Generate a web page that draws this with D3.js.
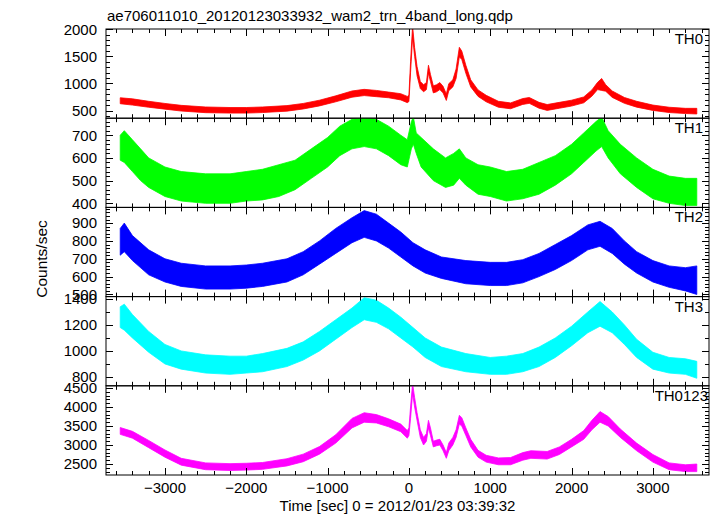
<!DOCTYPE html>
<html><head><meta charset="utf-8">
<script src="https://cdn.jsdelivr.net/npm/d3@7"></script>
<style>body{margin:0;background:#fff}svg{display:block}text{font-family:"Liberation Sans",Arial,sans-serif;fill:#000}</style>
</head><body><svg id="c" width="717" height="516"></svg>
<script>
// ---- data (lo/hi = envelope of the noisy light curve) ----
const title = "ae706011010_20120123033932_wam2_trn_4band_long.qdp";
const xLabel = "Time [sec] 0 = 2012/01/23 03:39:32";
const yLabel = "Counts/sec";
const bands = ["TH0","TH1","TH2","TH3","TH0123"];
const colors = ["#ff0000","#00ff00","#0000ff","#00ffff","#ff00ff"];
const xTicks = [-3000,-2000,-1000,0,1000,2000,3000];

const th0T  = [-3550,-3400,-3200,-3000,-2800,-2500,-2200,-2000,-1800,-1500,-1300,-1100,-900,-700,-550,-400,-250,-100,-20,0,20,45,70,100,140,180,215,240,265,300,340,380,420,460,490,540,580,620,650,700,760,850,950,1100,1250,1400,1480,1600,1700,1850,2000,2150,2250,2320,2370,2420,2500,2650,2800,3000,3200,3400,3540];
const th0Lo = [625,600,560,525,490,460,452,452,462,488,528,585,660,745,775,755,735,695,645,665,1200,1850,1500,1140,905,845,885,1190,1035,825,845,885,825,685,865,935,1090,1490,1440,1185,935,760,660,560,532,612,632,542,502,542,582,642,765,885,870,855,742,632,562,502,462,444,436];
const th0Hi = [735,715,670,630,595,565,555,555,565,590,630,690,770,860,890,870,840,810,760,780,1400,2060,1660,1310,1035,975,1015,1335,1165,955,975,1015,945,805,995,1065,1265,1665,1595,1335,1065,880,780,670,640,720,740,650,610,650,690,750,880,1020,1090,975,860,740,670,600,560,540,540];

const th1T  = [-3550,-3500,-3400,-3300,-3200,-3000,-2800,-2500,-2200,-2000,-1800,-1600,-1400,-1200,-1000,-850,-700,-550,-400,-250,-100,-20,30,55,90,150,300,450,550,620,700,850,1000,1200,1400,1600,1800,2000,2150,2300,2370,2450,2600,2800,3000,3200,3400,3540];
const th1Lo = [590,580,540,500,470,430,410,400,400,410,415,430,460,510,560,610,640,650,640,610,570,560,640,660,620,560,500,470,480,510,480,440,430,410,420,440,480,530,580,630,650,600,530,470,420,400,390,390];
const th1Hi = [700,720,680,640,600,560,540,530,530,540,550,570,590,640,690,740,770,775,770,740,700,680,760,780,710,690,640,600,620,640,600,570,560,540,550,580,610,660,710,760,780,720,660,600,550,520,510,510];

const th2T  = [-3550,-3500,-3400,-3200,-3000,-2800,-2500,-2200,-2000,-1800,-1500,-1300,-1100,-900,-700,-550,-400,-250,-100,50,200,400,700,1000,1200,1400,1600,1800,2000,2200,2350,2500,2650,2800,3000,3200,3400,3540];
const th2Lo = [720,740,690,610,570,545,530,530,535,545,570,610,670,730,790,820,800,760,710,660,620,590,560,550,550,565,600,640,690,750,770,730,670,620,570,540,520,500];
const th2Hi = [870,900,830,750,700,675,660,660,665,675,700,740,800,870,930,970,950,900,850,790,750,710,690,680,680,695,730,780,830,890,910,870,800,740,690,660,650,660];

const th3T  = [-3550,-3500,-3400,-3200,-3000,-2800,-2500,-2200,-2000,-1800,-1500,-1300,-1100,-900,-700,-550,-400,-250,-100,50,200,400,700,1000,1200,1400,1600,1800,2000,2200,2350,2500,2650,2800,3000,3200,3400,3540];
const th3Lo = [1180,1160,1100,990,900,860,830,820,830,840,880,930,1000,1090,1180,1240,1220,1170,1100,1030,950,880,840,820,820,840,880,950,1040,1140,1190,1140,1050,950,860,830,820,790];
const th3Hi = [1340,1360,1280,1150,1050,1000,970,960,960,980,1020,1070,1150,1240,1330,1410,1390,1330,1260,1180,1100,1030,980,950,960,980,1030,1100,1190,1300,1380,1300,1200,1090,990,950,940,920];

const th4T  = [-3550,-3400,-3200,-3000,-2800,-2500,-2200,-2000,-1800,-1500,-1300,-1100,-900,-700,-550,-400,-250,-100,-20,0,20,45,70,100,140,180,215,240,265,300,340,380,420,460,490,540,580,620,650,700,760,850,950,1100,1250,1400,1500,1700,1850,2000,2150,2250,2350,2450,2600,2800,3000,3200,3400,3540];
const th4Lo = [3280,3180,2930,2680,2470,2350,2330,2340,2360,2450,2560,2760,3050,3450,3600,3580,3480,3350,3180,3250,3700,4350,4000,3650,3200,3000,3100,3450,3250,2950,2980,3000,2850,2650,2850,3000,3200,3550,3500,3250,2950,2680,2550,2480,2480,2600,2650,2630,2750,2950,3150,3400,3600,3500,3200,2850,2550,2350,2300,2300];
const th4Hi = [3460,3360,3120,2870,2650,2530,2510,2520,2540,2640,2760,2960,3270,3700,3850,3800,3690,3550,3380,3450,4000,4620,4250,3850,3400,3200,3300,3650,3450,3100,3130,3150,3000,2800,3050,3200,3400,3780,3720,3450,3150,2860,2730,2660,2670,2800,2850,2830,2950,3150,3380,3650,3880,3750,3420,3050,2750,2530,2480,2500];

const yDomains = [[358,2003],[382,775],[488,988],[732,1418],[2211,4558]];
const yMajor = [500,100,100,200,500];
const yMinor = [100,20,20,100,100];

const series = [
  {t:th0T, lo:th0Lo, hi:th0Hi},
  {t:th1T, lo:th1Lo, hi:th1Hi},
  {t:th2T, lo:th2Lo, hi:th2Hi},
  {t:th3T, lo:th3Lo, hi:th3Hi},
  {t:th4T, lo:th4Lo, hi:th4Hi}
];

// ---- layout ----
const L = 106, R = 709, T0 = 29, PH = 89.2;
const svg = d3.select("#c");
const x = d3.scaleLinear().domain([-3725, 3690]).range([L, R]);
const xMinorTicks = d3.range(-3600, 3601, 200);
const FS = 15;

svg.append("text").attr("x", L + 1).attr("y", 21).attr("font-size", FS).text(title);

series.forEach((s, i) => {
  const top = T0 + i*PH, bot = top + PH;
  const y = d3.scaleLinear().domain(yDomains[i]).range([bot, top]);
  const g = svg.append("g");
  const clipId = "clip"+i;
  g.append("clipPath").attr("id", clipId).append("rect")
    .attr("x", L).attr("y", top).attr("width", R-L).attr("height", PH);
  const pts = s.t.map((t, k) => ({t, lo:s.lo[k], hi:s.hi[k]}));
  const area = d3.area().x(d => x(d.t)).y0(d => y(d.lo)).y1(d => y(d.hi));
  g.append("path").datum(pts).attr("clip-path", `url(#${clipId})`)
    .attr("d", area).attr("fill", colors[i]).attr("stroke", colors[i])
    .attr("stroke-width", 0.8).attr("stroke-linejoin", "round");

  // frame
  g.append("rect").attr("x", L).attr("y", top).attr("width", R-L).attr("height", PH)
    .attr("fill", "none").attr("stroke", "#000").attr("stroke-width", 1);

  // x ticks (top & bottom, inward)
  xMinorTicks.forEach(v => {
    if (v < x.domain()[0] || v > x.domain()[1]) return;
    const len = (v % 1000 === 0) ? 7 : 4;
    const px = Math.round(x(v)) + 0.5;
    g.append("line").attr("x1", px).attr("x2", px).attr("y1", bot).attr("y2", bot-len).attr("stroke", "#000");
    g.append("line").attr("x1", px).attr("x2", px).attr("y1", top).attr("y2", top+len).attr("stroke", "#000");
  });

  // y ticks (left & right, inward) + labels
  const [d0, d1] = yDomains[i];
  const minorVals = d3.range(Math.ceil(d0/yMinor[i])*yMinor[i], d1+0.001, yMinor[i]);
  minorVals.forEach(v => {
    const major = Math.abs(v % yMajor[i]) < 1e-6;
    const len = major ? 7 : 4;
    const py = Math.round(y(v)) + 0.5;
    g.append("line").attr("x1", L).attr("x2", L+len).attr("y1", py).attr("y2", py).attr("stroke", "#000");
    g.append("line").attr("x1", R).attr("x2", R-len).attr("y1", py).attr("y2", py).attr("stroke", "#000");
    if (major) {
      g.append("text").attr("x", 97).attr("y", y(v)).attr("dy", "0.36em")
        .attr("text-anchor", "end").attr("font-size", FS).text(v);
    }
  });

  g.append("text").attr("x", i === 4 ? R-1 : R-6).attr("y", top+15).attr("text-anchor", "end")
    .attr("font-size", FS).text(bands[i]);

  if (i === series.length-1) {
    xTicks.forEach(v => {
      g.append("text").attr("x", x(v)).attr("y", bot+18).attr("text-anchor", "middle")
        .attr("font-size", FS).text(d3.format("")(v));
    });
  }
});

svg.append("text").attr("x", (L+R)/2 - 10).attr("y", 511).attr("text-anchor", "middle")
  .attr("font-size", FS).text(xLabel);
svg.append("text").attr("transform", "translate(47,259) rotate(-90)").attr("text-anchor", "middle")
  .attr("font-size", 15.5).text(yLabel);
</script></body></html>
